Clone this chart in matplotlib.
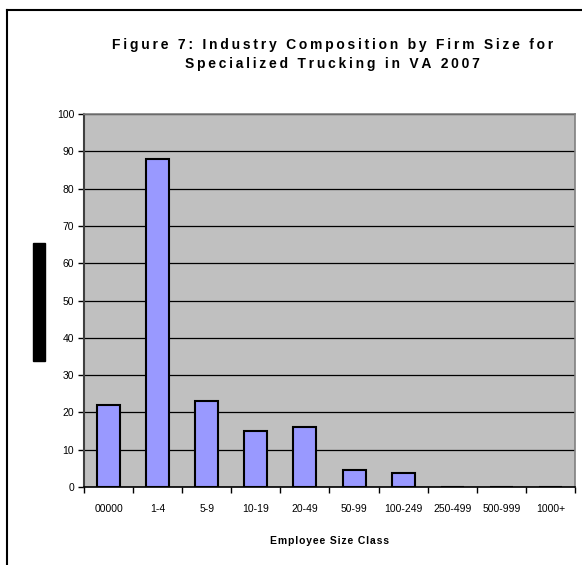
import matplotlib.pyplot as plt
from matplotlib.patches import Rectangle
from matplotlib.lines import Line2D

plt.rcParams['font.family'] = ['Liberation Sans', 'DejaVu Sans']

# firm counts by employee size class
size_classes = ['00000', '1-4', '5-9', '10-19', '20-49', '50-99', '100-249',
                '250-499', '500-999', '1000+']
firms = [22, 88, 23, 15, 16, 4.7, 3.7, 0, 0, 0]
y_ticks = list(range(0, 101, 10))

title_lines = ['Figure 7: Industry Composition by Firm Size for',
               'Specialized Trucking in VA 2007']


def spaced(s, gap='\u2009'):
    # wide letter spacing for the chart title
    return gap.join(s)


fig = plt.figure(figsize=(5.82, 5.65), dpi=100)
ax = fig.add_axes([0.1443, 0.138, 0.8437, 0.660])

ax.set_facecolor('#C0C0C0')
ax.bar(range(len(size_classes)), firms, width=0.47, color='#9999FF',
       edgecolor='black', linewidth=1.5, zorder=3)

ax.set_xlim(-0.5, len(size_classes) - 0.5)
ax.set_ylim(0, 100)
ax.set_yticks(y_ticks)
ax.yaxis.grid(True, color='black', linewidth=0.9, zorder=1)
ax.set_axisbelow(True)

# ticks between categories, labels centred under each bar
ax.set_xticks([i - 0.5 for i in range(len(size_classes) + 1)])
ax.set_xticklabels([])
ax.set_xticks(range(len(size_classes)), minor=True)
ax.set_xticklabels(size_classes, minor=True)
ax.tick_params(axis='x', which='minor', length=0, pad=12, labelsize=7.5)
ax.tick_params(axis='x', which='major', length=4, width=1, direction='out')
ax.tick_params(axis='y', length=4, width=1, direction='out', labelsize=7.5, pad=3)

for side in ['top', 'right']:
    ax.spines[side].set_color('#808080')
    ax.spines[side].set_linewidth(1.2)
ax.spines['left'].set_color('#404040')
ax.spines['left'].set_linewidth(1.5)
ax.spines['bottom'].set_color('black')
ax.spines['bottom'].set_linewidth(1.2)

ax.set_xlabel(spaced('Employee Size Class', '\u200a'), fontsize=7.5,
              fontweight='bold', labelpad=16)

fig.text(0.571, 0.903, '\n'.join(spaced(t) for t in title_lines),
         ha='center', va='center', fontsize=10, fontweight='bold', linespacing=1.45)

# blacked-out axis title
fig.add_artist(Rectangle((0.0567, 0.361), 0.0206, 0.209, transform=fig.transFigure,
                         color='black'))

# chart frame
fig.add_artist(Line2D([0.012, 0.012], [0.0, 0.982], transform=fig.transFigure,
                      color='black', linewidth=1.5))
fig.add_artist(Line2D([0.012, 1.0], [0.982, 0.982], transform=fig.transFigure,
                      color='black', linewidth=1.5))

fig.savefig('out.png', dpi=100)
